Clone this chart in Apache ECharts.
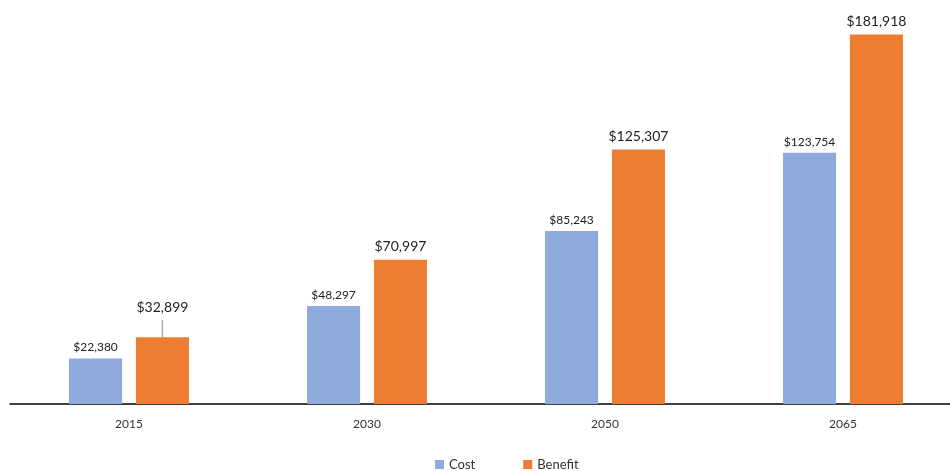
<!DOCTYPE html>
<html><head><meta charset="utf-8">
<script src="https://cdn.jsdelivr.net/npm/echarts@6/dist/echarts.min.js"></script>
<style>html,body{margin:0;padding:0;background:#fff}#c{width:950px;height:471px}</style>
</head><body><div id="c"></div>
<script>
const categories = ['2015', '2030', '2050', '2065'];
const costValues = [22380, 48297, 85243, 123754];
const benefitValues = [32899, 70997, 125307, 181918];
const seriesNames = ['Cost', 'Benefit'];

const fmt = v => '$' + v.toLocaleString('en-US');
const chart = echarts.init(document.getElementById('c'));
chart.setOption({
  animation: false,
  textStyle: { fontFamily: 'Lato, sans-serif' },
  grid: { left: 10, width: 952, top: 10, bottom: 67, outerBoundsMode: 'none', containLabel: false },
  legend: {
    top: 453, left: 430, itemWidth: 9, itemHeight: 9, itemGap: 48,
    icon: 'rect', textStyle: { color: '#333', fontSize: 13 },
    data: seriesNames
  },
  xAxis: {
    type: 'category', data: categories,
    axisLine: { lineStyle: { color: '#000', width: 1.5 } },
    axisTick: { show: false },
    axisLabel: { color: '#333', fontSize: 12, margin: 14 }
  },
  yAxis: { type: 'value', min: 0, max: 194000, show: false, splitLine: { show: false } },
  series: [
    {
      name: seriesNames[0], type: 'bar', data: costValues,
      barWidth: '22.3%', barGap: '26%',
      itemStyle: { color: '#8FAADC' },
      label: { show: true, position: 'top', distance: 5, color: '#222', fontSize: 12, formatter: p => fmt(p.value) }
    },
    {
      name: seriesNames[1], type: 'bar',
      data: benefitValues.map((v, i) => i === 0
        ? { value: v, labelLine: { show: true },
            label: { backgroundColor: 'rgba(255,255,255,0)', padding: [0, 0, 6, 0] } }
        : v),
      barWidth: '22.3%',
      itemStyle: { color: '#ED7D31' },
      label: { show: true, position: 'top', distance: 6, color: '#222', fontSize: 14, formatter: p => fmt(p.value) },
      labelLine: { show: false, lineStyle: { color: '#aaa', width: 1.5 } },
      labelLayout: p => p.dataIndex === 0 ? { dy: -11 } : {}
    }
  ]
});
</script></body></html>
